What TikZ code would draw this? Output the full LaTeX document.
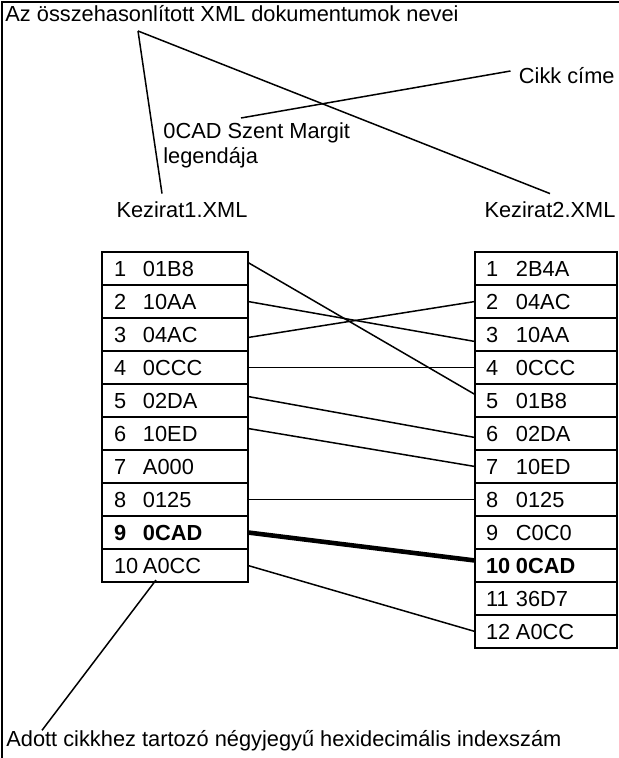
\documentclass[tikz,border=0pt]{standalone}
\usepackage{fontspec}
\setmainfont{Liberation Sans}
\usepackage{tikz}
\usetikzlibrary{positioning}

\newcommand{\lnum}[1]{\makebox[14.5pt][l]{#1}}
\newcommand{\rnum}[1]{\makebox[15pt][l]{#1}}

\begin{document}
\begin{tikzpicture}[
  x=0.5pt, y=-0.5pt,
  node distance = 0pt,
  font=\fontsize{10.9}{12.5}\selectfont,
  lbl/.style  = {inner sep=0pt, align=left},
  lrow/.style = {draw, line width=0.95pt, minimum width=73pt, minimum height=16.5pt,
                 text width=61pt, inner xsep=6pt, inner ysep=0pt, outer sep=0pt,
                 align=left},
  rrow/.style = {lrow, minimum width=71pt, text width=60pt, inner xsep=5.5pt},
  link/.style = {line width=0.75pt},
  hit/.style  = {line width=2.3pt},
  frame/.style = {line width=0.95pt},
]
\useasboundingbox (0,0) rectangle (619,758);

% Frame
\draw[frame] (2,758) |- (619,2);

% Labels
\node[lbl, anchor=west] (title) at (5,14) {Az összehasonlított XML dokumentumok nevei};
\node[lbl, anchor=east] (cikk) at (615,76) {Cikk címe};
\node[lbl, anchor=north west] (legend) at (163,122) {0CAD Szent Margit\\legendája};
\node[lbl] (kez1) at (182,210) {Kezirat1.XML};
\node[lbl] (kez2) at (550,210) {Kezirat2.XML};
\node[lbl, anchor=west] (note) at (6,741)
  {Adott cikkhez tartozó négyjegyű hexidecimális indexszám};
\coordinate (fork) at (138,31);

% Left table - Kezirat1
\node[lrow] (l1) at (175,268.5) {\lnum{1}01B8};
\node[lrow, below=of l1] (l2) {\lnum{2}10AA};
\node[lrow, below=of l2] (l3) {\lnum{3}04AC};
\node[lrow, below=of l3] (l4) {\lnum{4}0CCC};
\node[lrow, below=of l4] (l5) {\lnum{5}02DA};
\node[lrow, below=of l5] (l6) {\lnum{6}10ED};
\node[lrow, below=of l6] (l7) {\lnum{7}A000};
\node[lrow, below=of l7] (l8) {\lnum{8}0125};
\node[lrow, below=of l8] (l9) {\textbf{\lnum{9}0CAD}};
\node[lrow, below=of l9] (l10) {\lnum{10}A0CC};

% Right table - Kezirat2
\node[rrow] (r1) at (546,268.5) {\rnum{1}2B4A};
\node[rrow, below=of r1] (r2) {\rnum{2}04AC};
\node[rrow, below=of r2] (r3) {\rnum{3}10AA};
\node[rrow, below=of r3] (r4) {\rnum{4}0CCC};
\node[rrow, below=of r4] (r5) {\rnum{5}01B8};
\node[rrow, below=of r5] (r6) {\rnum{6}02DA};
\node[rrow, below=of r6] (r7) {\rnum{7}10ED};
\node[rrow, below=of r7] (r8) {\rnum{8}0125};
\node[rrow, below=of r8] (r9) {\rnum{9}C0C0};
\node[rrow, below=of r9] (r10) {\textbf{\rnum{10}0CAD}};
\node[rrow, below=of r10] (r11) {\rnum{11}36D7};
\node[rrow, below=of r11] (r12) {\rnum{12}A0CC};

% Pointer lines
\draw[link] (fork) -- ([xshift=-10pt,yshift=4pt]kez1.north);
\draw[link] (fork) -- ([yshift=4pt]kez2.north);
\draw[link] ([xshift=-4pt,yshift=2.5pt]cikk.west) -- ([xshift=39pt,yshift=2pt]legend.north west);
\draw[link] ([xshift=18pt]note.north west) -- ([xshift=27pt,yshift=1pt]l10.south west);

% Matches
\draw[link] ([yshift=3pt]l1.east) -- ([yshift=3pt]r5.west);
\draw[link] (l2.east) -- ([yshift=-3.5pt]r3.west);
\draw[link] ([yshift=-1.5pt]l3.east) -- (r2.west);
\draw[link] (l4.east) -- (r4.west);
\draw[link] ([yshift=2pt]l5.east) -- ([yshift=-2pt]r6.west);
\draw[link] ([yshift=2.5pt]l6.east) -- (r7.west);
\draw[link] (l8.east) -- (r8.west);
\draw[hit]  (l9.east) -- ([yshift=2.5pt]r10.west);
\draw[link] (l10.east) -- (r12.west);
\end{tikzpicture}
\end{document}
